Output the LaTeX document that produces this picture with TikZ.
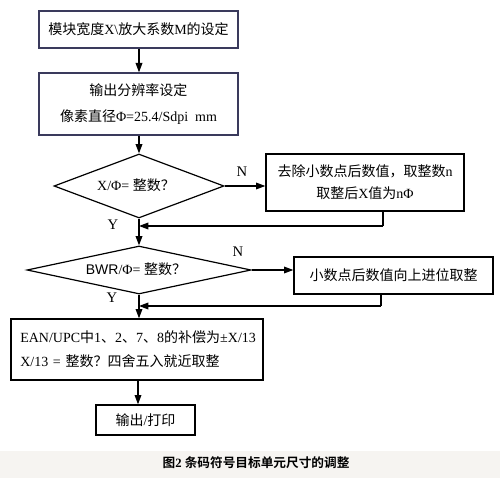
\documentclass[tikz,border=0pt]{standalone}
\usepackage{fontspec}
\setmainfont{Liberation Serif}
\setsansfont{Liberation Sans}
\newfontfamily\zhfont{Noto Sans CJK SC}[BoldFont={Noto Sans CJK SC Bold}]
\newcommand{\zh}[1]{{\zhfont #1}}
\usetikzlibrary{arrows.meta,shapes.geometric}
\definecolor{navy}{HTML}{3A3A5C}
\definecolor{band}{HTML}{F6F4F1}
\begin{document}
\begin{tikzpicture}[x=0.75pt,y=-0.75pt,
  every node/.style={font=\fontsize{10.5}{12.6}\selectfont},
  boxb/.style={draw=navy,line width=1pt,rectangle,inner sep=0pt,align=center},
  boxk/.style={draw=black,line width=1pt,rectangle,inner sep=0pt,align=center},
  dia/.style={draw=black,line width=0.9pt,diamond,inner sep=0pt},
  flow/.style={line width=1pt,-{Triangle[length=7pt,width=5pt]}},
  link/.style={line width=1pt},
  lbl/.style={font=\fontsize{11}{12}\selectfont}]
\useasboundingbox (0,0) rectangle (500,478);
\fill[band] (0,451) rectangle (500,478);

\node[boxb,minimum width=149.25pt,minimum height=27.75pt] (b1) at (138.5,29.5)
  {\zh{模块宽度}X\textbackslash\zh{放大系数}M\zh{的设定}};
\node[boxb,minimum width=149.25pt,minimum height=46.5pt,
  font=\fontsize{10.5}{20}\selectfont] (b2) at (138.5,104)
  {\zh{输出分辨率设定}\\\zh{像素直径}Φ=25.4/Sdpi\ \ mm};
\node[dia,minimum width=127.5pt,minimum height=48pt] (d1) at (139,186) {};
\node at (136,185) {X/Φ=\ \zh{整数？}};
\node[boxk,minimum width=148.5pt,minimum height=42.75pt,
  font=\fontsize{10.5}{16.5}\selectfont] (b3) at (365,182.5)
  {\zh{去除小数点后数值，取整数}n\\\zh{取整后}X\zh{值为}nΦ};
\node[dia,minimum width=168pt,minimum height=36pt] (d2) at (139,270) {};
\node at (136,269) {{\sffamily BWR}/Φ=\ \zh{整数？}};
\node[boxk,minimum width=149.25pt,minimum height=27.75pt] (b4) at (393.5,275.5)
  {\zh{小数点后数值向上进位取整}};
\node[boxk,minimum width=189pt,minimum height=45.75pt,inner xsep=7pt,
  text width=175pt,align=left,font=\fontsize{10.5}{18}\selectfont] (b5) at (137,349.5)
  {EAN/UPC\zh{中}1\zh{、}2\zh{、}7\zh{、}8\zh{的补偿为}±X/13\\X/13 = \zh{整数？四舍五入就近取整}};
\node[boxk,minimum width=74.25pt,minimum height=22.5pt] (b6) at (145.5,420)
  {\zh{输出}/\zh{打印}};

\node[lbl] (n1) at (242,172) {N};
\node[lbl] (n2) at (238,252) {N};
\node[lbl] (y1) at (113,225) {Y};
\node[lbl] (y2) at (112,298) {Y};

\node[font=\fontsize{9.5}{11}\selectfont] (cap) at (256,463)
  {\zh{\bfseries 图}\textbf{2} \zh{\bfseries 条码符号目标单元尺寸的调整}};

\coordinate (r1) at (383,226);
\coordinate (r2) at (381,306);

\draw[flow] (b1.south -| 139,0) -- (b2.north -| 139,0);
\draw[flow] (b2.south -| d1.north) -- (d1.north);
\draw[flow] (d1.east) -- (b3.west |- d1.east);
\draw[link] (b3.south -| r1) -- (r1);
\draw[flow] (r1) -- (d1.south |- r1);
\draw[flow] (d1.south) -- (d2.north);
\draw[flow] (d2.east) -- (b4.west |- d2.east);
\draw[link] (b4.south -| r2) -- (r2);
\draw[flow] (r2) -- (d2.south |- r2);
\draw[flow] (d2.south) -- (d2.south |- b5.north);
\draw[flow] (b5.south -| 138,0) -- (b6.north -| 138,0);
\end{tikzpicture}
\end{document}
